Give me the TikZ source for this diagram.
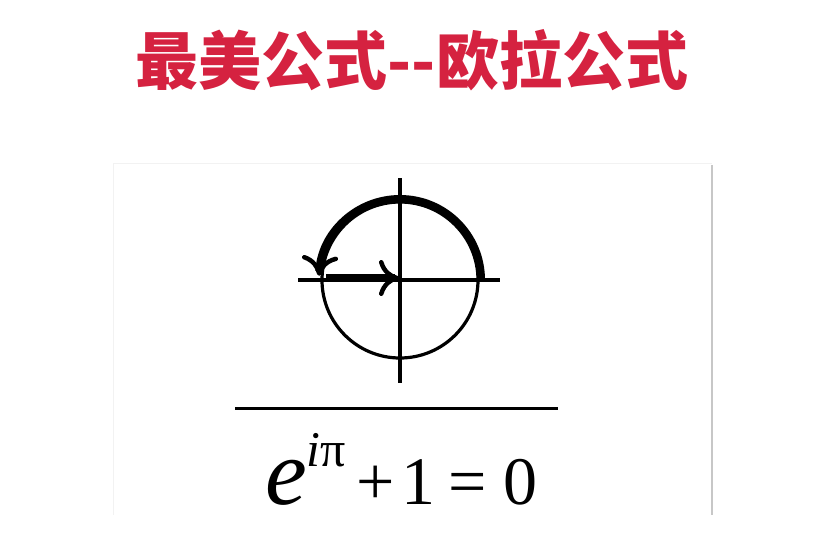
\documentclass[tikz,border=0pt]{standalone}
\usepackage{fontspec}
\setmainfont{Liberation Serif}
\newfontfamily\cjk{Noto Sans CJK SC}
\usetikzlibrary{arrows.meta}
\definecolor{titlered}{RGB}{213,34,64}
\begin{document}
\begin{tikzpicture}[x=1pt,y=-1pt,
  thinline/.style={line width=3.2pt,black},
  barbtip/.style={-{Computer Modern Rightarrow[length=20pt,width=36pt,line width=4.5pt]}},
  eqtext/.style={inner sep=0pt,anchor=base west,font=\fontsize{68}{68}\selectfont}]
\useasboundingbox (0,0) rectangle (820,544);
\fill[white] (0,0) rectangle (820,544);
% title
\node[text=titlered,font=\cjk\bfseries\fontsize{63}{63}\selectfont,inner sep=0pt] (title) at (412,60) {最美公式--欧拉公式};
% frame hint
\draw[black!5,line width=1pt] (113,163) -- (712,163);
\draw[black!5,line width=1pt] (113,163) -- (113,515);
\draw[black!22,line width=2pt] (712,165) -- (712,515);
% circle
\coordinate (O) at (400,280);
\coordinate (L) at (298,280);
\coordinate (R) at (500,280);
\coordinate (T) at (400,178);
\coordinate (B) at (400,383);
\draw[thinline] (L) -- (R);
\draw[thinline] (T) -- (B);
\draw[thinline] (O) circle[radius=78];
\draw[line width=8pt,barbtip]
  ([xshift=81]O) arc[start angle=0,end angle=-177,radius=81];
\coordinate (A0) at (326,278);
\coordinate (A1) at (399,278);
\draw[line width=8.5pt,barbtip] (A0) -- (A1);
% fraction line
\coordinate (F1) at (235,408);
\coordinate (F2) at (558,408);
\draw[line width=3pt] (F1) -- (F2);
% equation
\node[eqtext,font=\fontsize{94}{94}\selectfont] (e) at (265,504) {\textit{e}};
\node[inner sep=0pt,anchor=base west,font=\fontsize{50}{50}\selectfont] (ex) at (306,466) {\textit{i}π};
\node[eqtext] (rest) at (356,504) {+\hspace{7pt}1\hspace{13pt}=\hspace{17pt}0};
\end{tikzpicture}
\end{document}
